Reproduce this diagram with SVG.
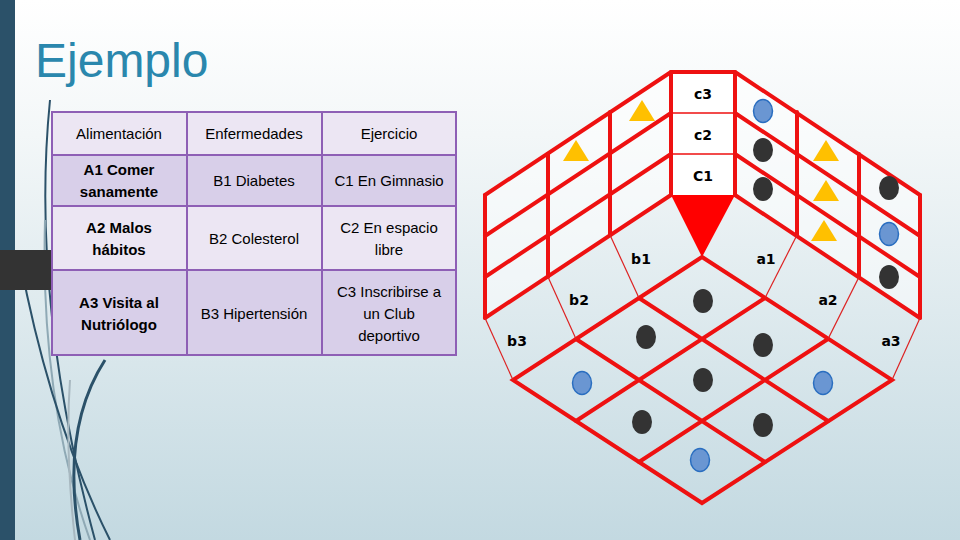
<svg xmlns="http://www.w3.org/2000/svg" width="960" height="540" viewBox="0 0 960 540">
<defs>
<linearGradient id="bg" x1="0" y1="0" x2="0" y2="1"><stop offset="0" stop-color="#ffffff"/><stop offset="0.25" stop-color="#f3f7f8"/><stop offset="1" stop-color="#c3d9e1"/></linearGradient>
<style>
.t{font-family:"Liberation Sans",Arial,sans-serif;font-size:15px;fill:#000;text-anchor:middle}
.b{font-weight:bold}
.cell{stroke:#8e5fb5;stroke-width:2}
.l{fill:#ece6f3}.d{fill:#d8cfe9}
.r{stroke:#ee1111;stroke-width:4;fill:none;stroke-linecap:round}
.thin{stroke:#dd2222;stroke-width:1.2}
.lab{font-family:"DejaVu Sans",sans-serif;font-weight:bold;font-size:14px;text-anchor:middle}
.dk{fill:#333}.bl{fill:#6a96d2;stroke:#2a6ec0;stroke-width:1.5}.tr{fill:#ffc000}
.deco{fill:none;stroke:#2b5169;stroke-width:2}
</style>
</defs>
<rect width="960" height="540" fill="url(#bg)"/>
<rect x="0" y="0" width="15" height="540" fill="#2b5169"/>
<g class="deco">
<path d="M50 100 Q30 300 95 540"/>
<path d="M45 220 Q40 400 90 540" stroke="#8fa9b5"/>
<path d="M20 260 Q50 420 110 540"/>
<path d="M105 360 Q60 430 80 540" stroke-width="3"/>
<path d="M70 380 Q65 450 75 540" stroke="#a8b8c0"/>
</g>
<rect x="0" y="250" width="52" height="40" fill="#333"/>
<text x="35" y="77" font-family="Liberation Sans,Arial,sans-serif" font-size="48" fill="#2a87ad">Ejemplo</text>
<g id="table">
<rect class="cell l" x="52" y="112" width="135" height="43"/><rect class="cell l" x="187" y="112" width="135" height="43"/><rect class="cell l" x="322" y="112" width="134" height="43"/>
<rect class="cell d" x="52" y="155" width="135" height="51"/><rect class="cell d" x="187" y="155" width="135" height="51"/><rect class="cell d" x="322" y="155" width="134" height="51"/>
<rect class="cell l" x="52" y="206" width="135" height="64"/><rect class="cell l" x="187" y="206" width="135" height="64"/><rect class="cell l" x="322" y="206" width="134" height="64"/>
<rect class="cell d" x="52" y="270" width="135" height="85"/><rect class="cell d" x="187" y="270" width="135" height="85"/><rect class="cell d" x="322" y="270" width="134" height="85"/>
<text class="t" x="119" y="139">Alimentación</text><text class="t" x="254" y="139">Enfermedades</text><text class="t" x="389" y="139">Ejercicio</text>
<text class="t b" x="119" y="175">A1 Comer</text><text class="t b" x="119" y="197">sanamente</text>
<text class="t" x="254" y="186">B1 Diabetes</text><text class="t" x="389" y="186">C1 En Gimnasio</text>
<text class="t b" x="119" y="233">A2 Malos</text><text class="t b" x="119" y="255">hábitos</text>
<text class="t" x="254" y="244">B2 Colesterol</text>
<text class="t" x="389" y="233">C2 En espacio</text><text class="t" x="389" y="255">libre</text>
<text class="t b" x="119" y="308">A3 Visita al</text><text class="t b" x="119" y="330">Nutriólogo</text>
<text class="t" x="254" y="319">B3 Hipertensión</text>
<text class="t" x="389" y="297">C3 Inscribirse a</text><text class="t" x="389" y="319">un Club</text><text class="t" x="389" y="341">deportivo</text>
</g>
<g id="cube">
<rect x="671" y="72" width="64" height="123" fill="#fff" stroke="none"/>
<path d="M671 72 L485 195 L485 318 L671 195 Z M735 72 L920 195 L920 318 L735 195 Z" fill="#fff" fill-opacity="0.5"/>
<polygon points="671,195 735,195 702,257" fill="#ff0000"/>
<g class="r">
<path d="M671 72 V195 M735 72 V195 M671 72 H735"/>
<path d="M671 113 H735 M671 154 H735" stroke-width="1.5"/>
<path d="M671 72 L485 195 M671 113 L485 236 M671 154 L485 277 M671 195 L485 318"/>
<path d="M485 195 V318 M548 154 V277 M610 112 V235"/>
<path d="M735 72 L920 195 M735 113 L920 236 M735 154 L920 277 M735 195 L920 318"/>
<path d="M920 195 V318 M859 154 V277 M797 112 V235"/>
<path d="M702 257 L513 380 L702 503 L892 380 Z"/>
<path d="M765 298 L576 421 M828 339 L639 462 M639 298 L828 421 M576 339 L765 462"/>
</g>
<g class="thin">
<line x1="485" y1="318" x2="513" y2="380"/><line x1="548" y1="277" x2="576" y2="339"/><line x1="610" y1="235" x2="639" y2="298"/>
<line x1="920" y1="318" x2="892" y2="380"/><line x1="859" y1="277" x2="828" y2="339"/><line x1="797" y1="235" x2="765" y2="298"/>
</g>
<text class="lab" x="703" y="99">c3</text><text class="lab" x="703" y="140">c2</text><text class="lab" x="703" y="181">C1</text>
<text class="lab" x="641" y="264">b1</text><text class="lab" x="766" y="264">a1</text>
<text class="lab" x="579" y="305">b2</text><text class="lab" x="828" y="305">a2</text>
<text class="lab" x="517" y="346">b3</text><text class="lab" x="891" y="346">a3</text>
<g class="tr">
<polygon points="642,100 629,121 655,121"/><polygon points="576,140 563,161 589,161"/>
<polygon points="826,140 813,161 839,161"/><polygon points="826,180 813,201 839,201"/><polygon points="824,220 811,241 837,241"/>
</g>
<g class="dk">
<ellipse cx="763" cy="150" rx="10" ry="12"/><ellipse cx="763" cy="189" rx="10" ry="12"/>
<ellipse cx="889" cy="188" rx="10" ry="12"/><ellipse cx="889" cy="277" rx="10" ry="12"/>
<ellipse cx="703" cy="301" rx="10" ry="12"/><ellipse cx="646" cy="337" rx="10" ry="12"/><ellipse cx="763" cy="345" rx="10" ry="12"/>
<ellipse cx="703" cy="380" rx="10" ry="12"/><ellipse cx="642" cy="422" rx="10" ry="12"/><ellipse cx="763" cy="425" rx="10" ry="12"/>
</g>
<g class="bl">
<ellipse cx="763" cy="111" rx="9.5" ry="11.5"/><ellipse cx="889" cy="234" rx="9.5" ry="11.5"/>
<ellipse cx="582" cy="383" rx="9.5" ry="11.5"/><ellipse cx="823" cy="383" rx="9.5" ry="11.5"/><ellipse cx="700" cy="460" rx="9.5" ry="11.5"/>
</g>
</g>
</svg>
